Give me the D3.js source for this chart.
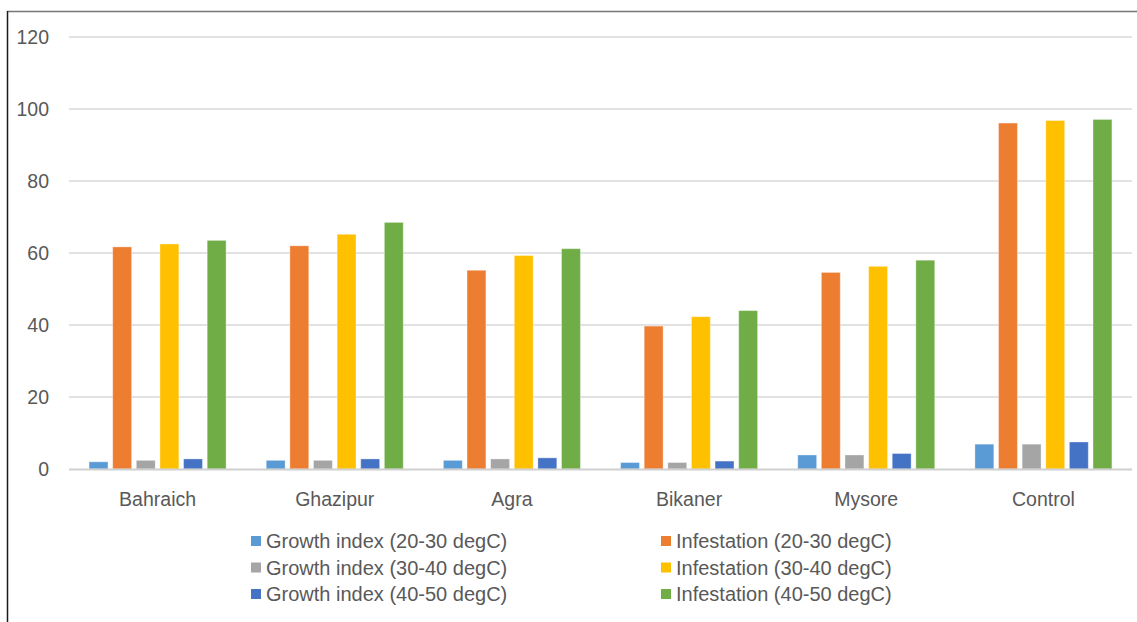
<!DOCTYPE html>
<html>
<head>
<meta charset="utf-8">
<script src="https://cdn.jsdelivr.net/npm/d3@7"></script>
<style>
  html, body { margin: 0; padding: 0; background: #fff; }
  svg { display: block; }
  text { font-family: "Liberation Sans", Arial, sans-serif; fill: #595959; }
</style>
</head>
<body>
<svg id="chart" width="1137" height="622"></svg>
<script>
// Locations tested plus the untreated control
const categories = ["Bahraich", "Ghazipur", "Agra", "Bikaner", "Mysore", "Control"];

// Series names in plotting order
const seriesNames = [
  "Growth index (20-30 degC)",
  "Infestation (20-30 degC)",
  "Growth index (30-40 degC)",
  "Infestation (30-40 degC)",
  "Growth index (40-50 degC)",
  "Infestation (40-50 degC)"
];

// Values per series, one entry per location
const growth20 = [2.0, 2.4, 2.4, 1.8, 3.9, 6.9];
const infest20 = [61.7, 62.0, 55.2, 39.7, 54.6, 96.1];
const growth30 = [2.4, 2.4, 2.8, 1.8, 3.9, 6.9];
const infest30 = [62.5, 65.2, 59.3, 42.3, 56.3, 96.8];
const growth40 = [2.8, 2.8, 3.1, 2.2, 4.3, 7.5];
const infest40 = [63.5, 68.5, 61.2, 44.0, 58.0, 97.1];

const yTicks = [0, 20, 40, 60, 80, 100, 120];

const seriesValues = [growth20, infest20, growth30, infest30, growth40, infest40];
const colors = ["#5B9BD5", "#ED7D31", "#A5A5A5", "#FFC000", "#4472C4", "#70AD47"];

const svg = d3.select("#chart");

// Frame edges
svg.append("line").attr("x1", 7).attr("x2", 1137).attr("y1", 11.5).attr("y2", 11.5)
  .attr("stroke", "#767676").attr("stroke-width", 1.5);
svg.append("line").attr("x1", 7.5).attr("x2", 7.5).attr("y1", 11).attr("y2", 622)
  .attr("stroke", "#1a1a1a").attr("stroke-width", 1.5);

const plot = { left: 69, right: 1132, top: 37, bottom: 469 };

const y = d3.scaleLinear().domain([0, 120]).range([plot.bottom, plot.top]);
const x0 = d3.scaleBand().domain(categories).range([plot.left, plot.right]);
const x1 = d3.scaleBand().domain(d3.range(seriesNames.length))
  .range([0, x0.bandwidth()]).paddingInner(0.2).paddingOuter(0.85);

// Gridlines
svg.append("g").selectAll("line").data(yTicks.filter(d => d > 0)).join("line")
  .attr("x1", plot.left).attr("x2", plot.right)
  .attr("y1", d => y(d)).attr("y2", d => y(d))
  .attr("stroke", "#d9d9d9").attr("stroke-width", 1.5);

// Y axis labels
const yAxis = d3.axisLeft(y).tickValues(yTicks).tickSize(0).tickPadding(0);
const yg = svg.append("g").attr("transform", `translate(49,0)`).call(yAxis);
yg.select(".domain").remove();
yg.selectAll("text").attr("font-size", 19.5).attr("fill", "#595959")
  .style("font-family", "'Liberation Sans', Arial, sans-serif");

// Bars
const groups = svg.append("g").selectAll("g").data(categories).join("g")
  .attr("transform", d => `translate(${x0(d)},0)`);
groups.selectAll("rect")
  .data((c, ci) => seriesValues.map((vals, si) => ({ si, v: vals[ci] })))
  .join("rect")
  .attr("x", d => x1(d.si))
  .attr("width", x1.bandwidth())
  .attr("y", d => y(d.v))
  .attr("height", d => y(0) - y(d.v))
  .attr("fill", d => colors[d.si])
  .attr("stroke", "rgba(255,255,255,0.35)")
  .attr("stroke-width", 1);

// Category axis
svg.append("line").attr("x1", plot.left).attr("x2", plot.right)
  .attr("y1", plot.bottom + 0.5).attr("y2", plot.bottom + 0.5)
  .attr("stroke", "#d0d0d0").attr("stroke-width", 2);
const xAxis = d3.axisBottom(x0).tickSize(0).tickPadding(0);
const xg = svg.append("g").attr("transform", `translate(0,${plot.bottom + 37})`).call(xAxis);
xg.select(".domain").remove();
xg.selectAll("text").attr("font-size", 19.5).attr("fill", "#595959").attr("dy", 0)
  .style("font-family", "'Liberation Sans', Arial, sans-serif");

// Legend: two columns, three rows
const legendCols = [251, 661];
const legendRows = [541, 567.5, 594];
const legend = svg.append("g").selectAll("g").data(seriesNames).join("g")
  .attr("transform", (d, i) => `translate(${legendCols[i % 2]},${legendRows[Math.floor(i / 2)]})`);
legend.append("rect").attr("x", 0).attr("y", -5).attr("width", 10).attr("height", 10)
  .attr("fill", (d, i) => colors[i]);
legend.append("text").attr("x", 15).attr("y", 0).attr("dy", "0.35em")
  .attr("font-size", 20).text(d => d);
</script>
</body>
</html>
